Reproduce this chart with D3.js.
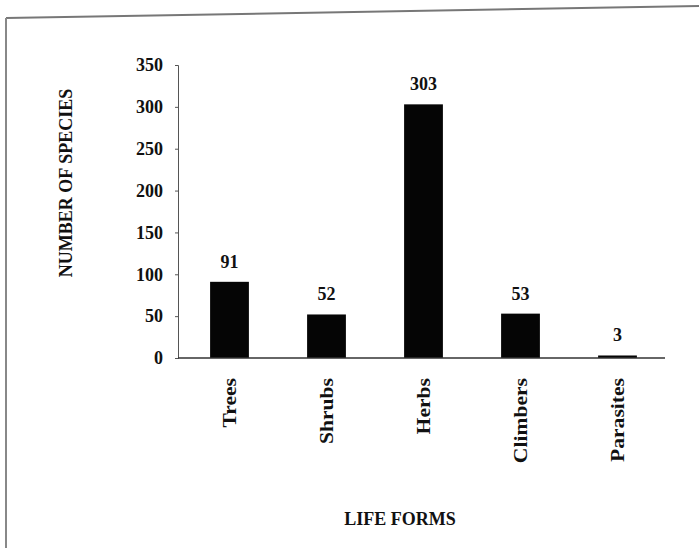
<!DOCTYPE html>
<html>
<head>
<meta charset="utf-8">
<script src="https://cdn.jsdelivr.net/npm/d3@7"></script>
<style>
  body { margin: 0; background: #fff; }
  text { font-family: "Liberation Serif", "DejaVu Serif", serif; font-weight: bold; fill: #111; }
</style>
</head>
<body>
<div id="chart"></div>
<script>
const lifeForms = ['Trees', 'Shrubs', 'Herbs', 'Climbers', 'Parasites'];
const speciesCounts = [91, 52, 303, 53, 3];
const yTicks = [0, 50, 100, 150, 200, 250, 300, 350];

const width = 699, height = 548;
const margin = { top: 65, left: 178, right: 34, bottom: 190 };

const svg = d3.select('#chart').append('svg')
    .attr('width', width).attr('height', height);

// scanned frame (slightly tilted top edge)
svg.append('line').attr('x1', 6).attr('y1', 18).attr('x2', 699).attr('y2', 6)
    .attr('stroke', '#777').attr('stroke-width', 2);
svg.append('line').attr('x1', 6).attr('y1', 18).attr('x2', 6).attr('y2', 548)
    .attr('stroke', '#888').attr('stroke-width', 2);

const x = d3.scaleBand().domain(lifeForms)
    .range([181, 666]).paddingInner(0.6).paddingOuter(0.3);
const y = d3.scaleLinear().domain([0, 350]).range([358, margin.top]);

// bars
svg.selectAll('.bar').data(lifeForms).enter()
    .append('rect')
    .attr('class', 'bar')
    .attr('x', d => x(d))
    .attr('width', x.bandwidth())
    .attr('y', (d, i) => y(speciesCounts[i]))
    .attr('height', (d, i) => y(0) - y(speciesCounts[i]))
    .attr('fill', '#050505');

// value labels
svg.selectAll('.val').data(lifeForms).enter()
    .append('text')
    .attr('x', d => x(d) + x.bandwidth() / 2)
    .attr('y', (d, i) => y(speciesCounts[i]) - 14)
    .attr('text-anchor', 'middle')
    .style('font-size', '18px')
    .text((d, i) => speciesCounts[i]);

// y axis
const yAxis = svg.append('g').attr('transform', `translate(${margin.left},0)`)
    .call(d3.axisLeft(y).tickValues(yTicks).tickSize(3).tickPadding(12));
yAxis.selectAll('text').style('font-size', '18px')
    .style('font-family', '"Liberation Serif", serif').style('font-weight', 'bold');
yAxis.selectAll('line, path').attr('stroke', '#555');

// x axis
const xAxis = svg.append('g').attr('transform', `translate(0,${y(0)})`)
    .call(d3.axisBottom(x).tickSize(0).tickPadding(0));
xAxis.select('.domain').attr('d', `M${margin.left},0H${width - margin.right}`)
    .attr('stroke', '#333').attr('stroke-width', 1.5);
xAxis.selectAll('text')
    .attr('transform', 'rotate(-90) translate(-20,0) scale(1.2,1)')
    .attr('x', 0).attr('y', 0).attr('dy', '0.35em')
    .attr('text-anchor', 'end')
    .style('font-size', '18px')
    .style('font-family', '"Liberation Serif", serif').style('font-weight', 'bold');

// axis titles
svg.append('text')
    .attr('transform', `translate(66,183) rotate(-90)`)
    .attr('text-anchor', 'middle').attr('dy', '0.35em')
    .style('font-size', '18px')
    .text('NUMBER OF SPECIES');
svg.append('text')
    .attr('x', 400).attr('y', 525)
    .attr('text-anchor', 'middle')
    .style('font-size', '18px')
    .text('LIFE FORMS');
</script>
</body>
</html>
